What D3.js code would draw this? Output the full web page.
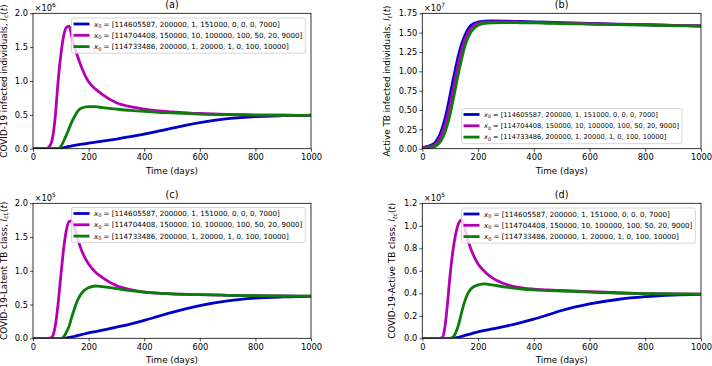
<!DOCTYPE html>
<html>
<head>
<meta charset="UTF-8">
<script src="https://d3js.org/d3.v7.min.js"></script>
<style>
  body { margin: 0; background: #fff; }
  svg { font-family: "DejaVu Sans", sans-serif; display: block; }
</style>
</head>
<body>
<svg width="712" height="366"></svg>
<script>
// sample days shared by every curve
const days = [0, 40, 50, 60, 70, 80, 90, 100, 110, 120, 130, 140, 150, 160, 175, 200, 225, 250, 300, 350, 400, 450, 500, 600, 700, 800, 900, 1000];

// (a) COVID-19 infected, x1e6
const icBlue    = [0, 0, 0, 0, 0, 0, 0, 0.004, 0.014, 0.025, 0.034, 0.042, 0.05, 0.057, 0.067, 0.083, 0.097, 0.112, 0.143, 0.177, 0.215, 0.258, 0.303, 0.385, 0.443, 0.475, 0.488, 0.494];
const icMagenta = [0, 0, 0.005, 0.04, 0.15, 0.47, 0.98, 1.38, 1.66, 1.79, 1.81, 1.65, 1.5, 1.37, 1.2, 0.99, 0.88, 0.8, 0.68, 0.62, 0.585, 0.56, 0.545, 0.52, 0.505, 0.497, 0.494, 0.493];
const icGreen   = [0, 0, 0, 0, 0, 0, 0.002, 0.03, 0.11, 0.2, 0.3, 0.4, 0.48, 0.55, 0.6, 0.622, 0.62, 0.607, 0.585, 0.565, 0.55, 0.538, 0.53, 0.512, 0.502, 0.497, 0.494, 0.493];

// (b) active TB infected, x1e7
const itBlue    = [0.015, 0.06, 0.1, 0.16, 0.25, 0.37, 0.52, 0.7, 0.88, 1.05, 1.21, 1.34, 1.44, 1.52, 1.595, 1.637, 1.648, 1.652, 1.65, 1.645, 1.64, 1.635, 1.63, 1.62, 1.61, 1.603, 1.595, 1.588];
const itMagenta = [0.01, 0.04, 0.07, 0.12, 0.19, 0.29, 0.42, 0.58, 0.76, 0.94, 1.11, 1.26, 1.38, 1.47, 1.56, 1.62, 1.636, 1.64, 1.64, 1.637, 1.633, 1.628, 1.624, 1.615, 1.607, 1.6, 1.593, 1.586];
const itGreen   = [0.003, 0.02, 0.04, 0.07, 0.12, 0.2, 0.31, 0.45, 0.62, 0.8, 0.98, 1.14, 1.29, 1.4, 1.51, 1.595, 1.62, 1.627, 1.63, 1.628, 1.625, 1.621, 1.617, 1.61, 1.603, 1.596, 1.59, 1.584];

// (c) COVID-19 - latent TB, x1e5
const iclBlue    = [0, 0, 0, 0, 0, 0, 0, 0, 0, 0.004, 0.012, 0.02, 0.03, 0.04, 0.055, 0.08, 0.1, 0.12, 0.165, 0.21, 0.265, 0.325, 0.385, 0.485, 0.555, 0.595, 0.613, 0.622];
const iclMagenta = [0, 0, 0, 0.002, 0.03, 0.18, 0.5, 0.92, 1.32, 1.6, 1.73, 1.74, 1.62, 1.48, 1.3, 1.1, 0.98, 0.9, 0.78, 0.72, 0.685, 0.668, 0.658, 0.646, 0.637, 0.631, 0.627, 0.625];
const iclGreen   = [0, 0, 0, 0, 0, 0, 0, 0, 0.02, 0.09, 0.18, 0.32, 0.45, 0.56, 0.67, 0.75, 0.775, 0.765, 0.735, 0.705, 0.683, 0.668, 0.658, 0.646, 0.637, 0.631, 0.627, 0.625];

// (d) COVID-19 - active TB, x1e5
const itcBlue    = [0, 0, 0, 0, 0, 0, 0, 0, 0, 0.003, 0.009, 0.016, 0.023, 0.03, 0.04, 0.058, 0.07, 0.083, 0.108, 0.137, 0.17, 0.208, 0.247, 0.305, 0.345, 0.37, 0.384, 0.39];
const itcMagenta = [0, 0, 0, 0, 0.003, 0.08, 0.3, 0.57, 0.78, 0.93, 1.02, 1.05, 1.0, 0.9, 0.79, 0.66, 0.59, 0.54, 0.48, 0.45, 0.437, 0.43, 0.425, 0.415, 0.405, 0.398, 0.394, 0.392];
const itcGreen   = [0, 0, 0, 0, 0, 0, 0, 0, 0.01, 0.05, 0.12, 0.22, 0.31, 0.38, 0.44, 0.475, 0.483, 0.475, 0.455, 0.44, 0.43, 0.425, 0.42, 0.41, 0.402, 0.397, 0.394, 0.392];

const legendLabels = [
  "[114605587, 200000, 1, 151000, 0, 0, 0, 7000]",
  "[114704408, 150000, 10, 100000, 100, 50, 20, 9000]",
  "[114733486, 200000, 1, 20000, 1, 0, 100, 10000]"
];
const colors = ["#0000c8", "#b400b4", "#0a7d0a"];
const xTicks = [0, 200, 400, 600, 800, 1000];

const panels = [
  { title: "(a)", ylab: "COVID-19 infected individuals, ", sym: "I", sub: "c", exp: "6",
    ymax: 2.0, yTicks: [0, 0.5, 1.0, 1.5, 2.0], fmt: ".1f", series: [icBlue, icMagenta, icGreen],
    box: [33, 13.3, 311, 148.7], labX: 6.5, leg: [71.5, 18, 7.1] },
  { title: "(b)", ylab: "Active TB infected individuals, ", sym: "I", sub: "t", exp: "7",
    ymax: 1.75, yTicks: [0, 0.25, 0.5, 0.75, 1.0, 1.25, 1.5, 1.75], fmt: ".2f", series: [itBlue, itMagenta, itGreen],
    box: [422.3, 13.3, 701, 148.7], labX: 390, leg: [461.5, 108.5, 6.65] },
  { title: "(c)", ylab: "COVID-19-Latent TB class, ", sym: "I", sub: "cL", exp: "5",
    ymax: 2.0, yTicks: [0, 0.5, 1.0, 1.5, 2.0], fmt: ".1f", series: [iclBlue, iclMagenta, iclGreen],
    box: [33, 203.3, 311, 338.3], labX: 6.5, leg: [71.5, 207.5, 7.1] },
  { title: "(d)", ylab: "COVID-19-Active TB class, ", sym: "I", sub: "tc", exp: "5",
    ymax: 1.2, yTicks: [0, 0.2, 0.4, 0.6, 0.8, 1.0, 1.2], fmt: ".1f", series: [itcBlue, itcMagenta, itcGreen],
    box: [422.3, 203.3, 701, 338.3], labX: 395, leg: [461.5, 208, 7.1] }
];

const svg = d3.select("svg");

panels.forEach(p => {
  const [l, t, r, b] = p.box;
  const x = d3.scaleLinear().domain([0, 1000]).range([l, r]);
  const y = d3.scaleLinear().domain([0, p.ymax]).range([b, t]);
  const g = svg.append("g");

  const clipId = "clip" + p.title.replace(/\W/g, "");
  g.append("clipPath").attr("id", clipId)
    .append("rect").attr("x", l).attr("y", t).attr("width", r - l).attr("height", b - t);

  const line = d3.line()
    .x((d, i) => x(days[i]))
    .y(d => y(d))
    .curve(d3.curveMonotoneX);

  g.append("g").attr("clip-path", `url(#${clipId})`)
    .selectAll("path").data(p.series).enter().append("path")
    .attr("d", line)
    .attr("fill", "none")
    .attr("stroke", (d, i) => colors[i])
    .attr("stroke-width", 2.8)
    .attr("stroke-linejoin", "round");

  // axes
  const xa = g.append("g").attr("transform", `translate(0,${b})`)
    .call(d3.axisBottom(x).tickValues(xTicks).tickSize(3).tickPadding(2.5).tickFormat(d3.format("d")));
  const ya = g.append("g").attr("transform", `translate(${l},0)`)
    .call(d3.axisLeft(y).tickValues(p.yTicks).tickSize(3).tickPadding(2).tickFormat(d3.format(p.fmt)));
  [xa, ya].forEach(a => {
    a.select(".domain").remove();
    a.selectAll("line").attr("stroke", "#000").attr("stroke-width", 0.7);
    a.selectAll("text").attr("font-size", 8.3).attr("fill", "#000").attr("font-family", "DejaVu Sans");
  });

  g.append("rect").attr("x", l).attr("y", t).attr("width", r - l).attr("height", b - t)
    .attr("fill", "none").attr("stroke", "#000").attr("stroke-width", 0.8);

  // title
  g.append("text").attr("x", (l + r) / 2).attr("y", t - 5)
    .attr("text-anchor", "middle").attr("font-size", 9.6).text(p.title);

  // x label
  g.append("text").attr("x", (l + r) / 2).attr("y", b + 25)
    .attr("text-anchor", "middle").attr("font-size", 8.8).text("Time (days)");

  // y label
  const yl = g.append("text")
    .attr("transform", `translate(${p.labX},${(t + b) / 2}) rotate(-90)`)
    .attr("text-anchor", "middle").attr("font-size", 8.8);
  yl.append("tspan").text(p.ylab);
  yl.append("tspan").attr("font-style", "italic").text(p.sym);
  yl.append("tspan").attr("font-style", "italic").attr("font-size", 6.2).attr("dy", 1.8).text(p.sub);
  yl.append("tspan").attr("dy", -1.8).text("(");
  yl.append("tspan").attr("font-style", "italic").text("t");
  yl.append("tspan").text(")");

  // offset text
  const ot = g.append("text").attr("x", l + 1.5).attr("y", t - 2.5).attr("font-size", 8.3);
  ot.append("tspan").text("×10");
  ot.append("tspan").attr("font-size", 5.9).attr("dy", -3.6).text(p.exp);

  // legend
  const [lx, ly, fs] = p.leg;
  const rowH = 11.3;
  const lg = g.append("g");
  const frame = lg.append("rect").attr("x", lx).attr("y", ly).attr("rx", 2)
    .attr("height", rowH * 2 + 12.6)
    .attr("fill", "#fff").attr("fill-opacity", 0.8)
    .attr("stroke", "#cccccc").attr("stroke-width", 0.8);
  let maxW = 0;
  legendLabels.forEach((lab, i) => {
    const cy = ly + 6 + i * rowH;
    lg.append("line").attr("x1", lx + 2).attr("x2", lx + 18).attr("y1", cy).attr("y2", cy)
      .attr("stroke", colors[i]).attr("stroke-width", 2.8);
    const tx = lg.append("text").attr("x", lx + 22.5).attr("y", cy + fs * 0.36).attr("font-size", fs);
    tx.append("tspan").attr("font-style", "italic").text("x");
    tx.append("tspan").attr("font-size", fs * 0.7).attr("dy", fs * 0.2).text("0");
    tx.append("tspan").attr("dy", -fs * 0.2).text(" = " + lab);
    maxW = Math.max(maxW, tx.node().getComputedTextLength());
  });
  frame.attr("width", 22.5 + maxW + 3);
});
</script>
</body>
</html>
